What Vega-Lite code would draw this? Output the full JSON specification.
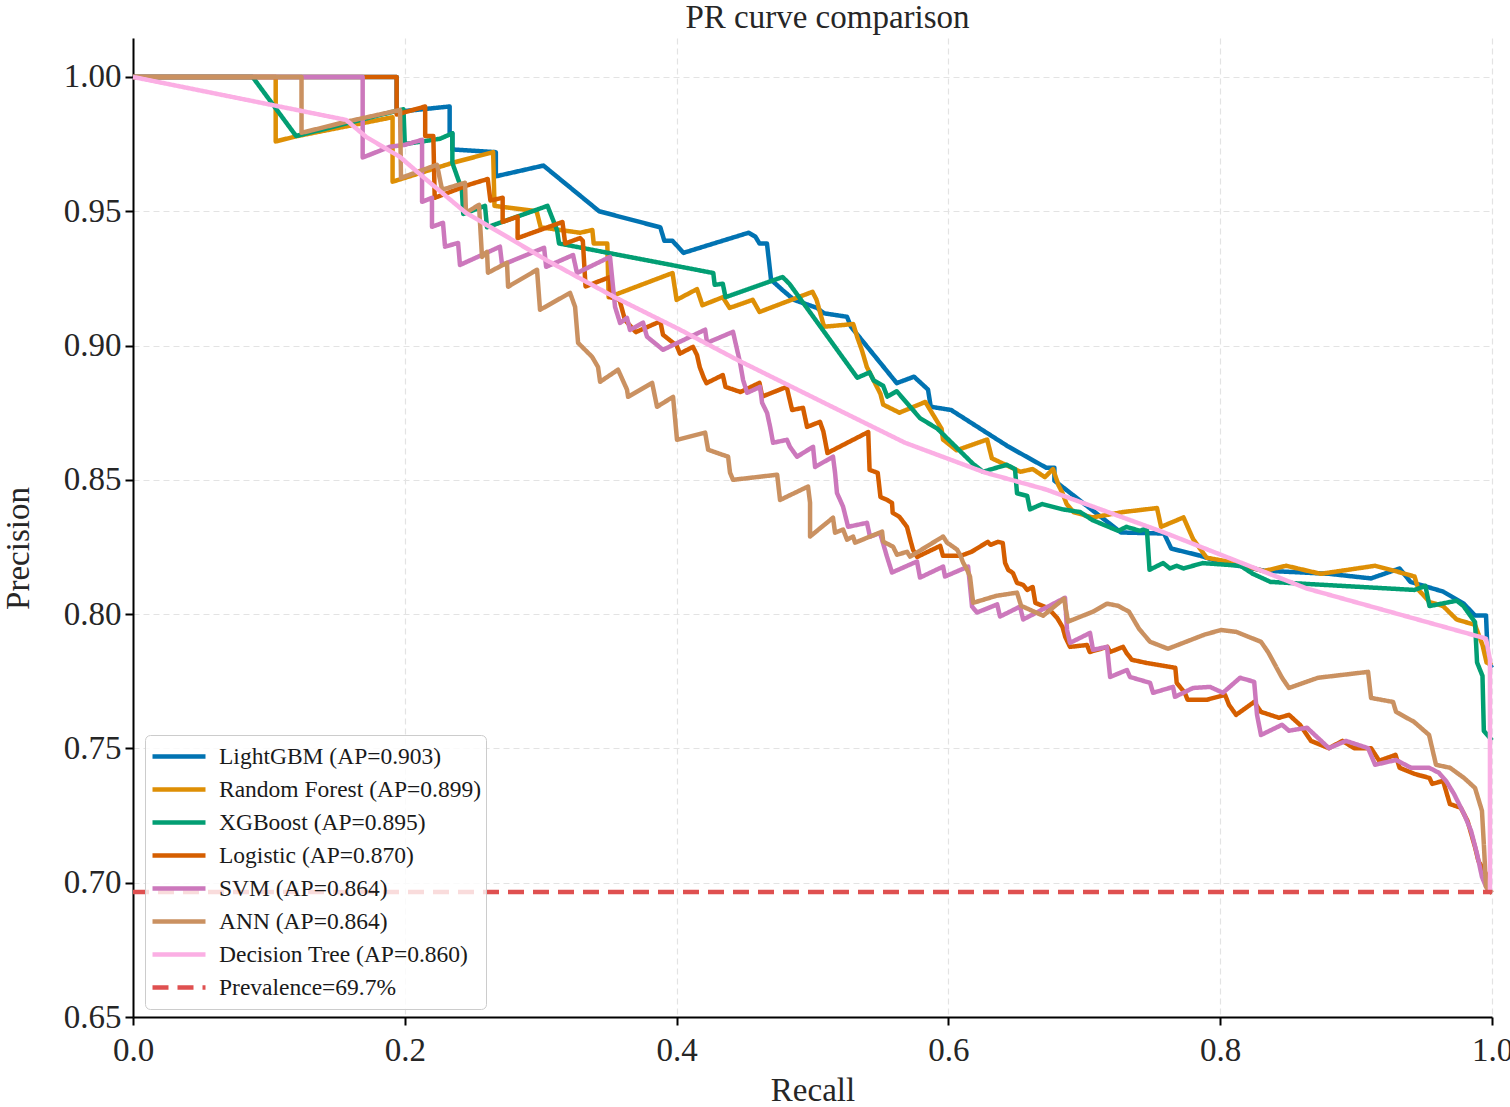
{
  "$schema": "https://vega.github.io/schema/vega-lite/v6.json",
  "width": 1359,
  "height": 979,
  "autosize": {"type": "none"},
  "padding": {"left": 133, "top": 38, "right": 18, "bottom": 90},
  "background": "white",
  "title": {"text": "PR curve comparison", "font": "Liberation Serif", "fontSize": 33, "fontWeight": "normal", "color": "#262626", "offset": 3, "dx": 15},
  "datasets": {
    "labels": [
      {"m": "L", "model": "LightGBM (AP=0.903)"},
      {"m": "F", "model": "Random Forest (AP=0.899)"},
      {"m": "X", "model": "XGBoost (AP=0.895)"},
      {"m": "G", "model": "Logistic (AP=0.870)"},
      {"m": "S", "model": "SVM (AP=0.864)"},
      {"m": "A", "model": "ANN (AP=0.864)"},
      {"m": "D", "model": "Decision Tree (AP=0.860)"},
      {"m": "P", "model": "Prevalence=69.7%"}
    ]
  },
  "data": {"values": [
    {"m":"L","i":0,"r":0,"p":1},{"m":"L","i":1,"r":0.194,"p":1},{"m":"L","i":2,"r":0.194,"p":0.987},{"m":"L","i":3,"r":0.233,"p":0.989},{"m":"L","i":4,"r":0.233,"p":0.979},{"m":"L","i":5,"r":0.235,"p":0.979},{"m":"L","i":6,"r":0.235,"p":0.973},{"m":"L","i":7,"r":0.267,"p":0.972},{"m":"L","i":8,"r":0.267,"p":0.963},{"m":"L","i":9,"r":0.302,"p":0.967},
    {"m":"L","i":10,"r":0.343,"p":0.950},{"m":"L","i":11,"r":0.388,"p":0.944},{"m":"L","i":12,"r":0.391,"p":0.939},{"m":"L","i":13,"r":0.397,"p":0.939},{"m":"L","i":14,"r":0.405,"p":0.9345},{"m":"L","i":15,"r":0.453,"p":0.942},{"m":"L","i":16,"r":0.458,"p":0.9405},{"m":"L","i":17,"r":0.461,"p":0.938},{"m":"L","i":18,"r":0.4665,"p":0.938},{"m":"L","i":19,"r":0.4695,"p":0.9245},
    {"m":"L","i":20,"r":0.4776,"p":0.9208},{"m":"L","i":21,"r":0.4864,"p":0.917},{"m":"L","i":22,"r":0.5033,"p":0.914},{"m":"L","i":23,"r":0.5085,"p":0.912},{"m":"L","i":24,"r":0.5254,"p":0.9107},{"m":"L","i":25,"r":0.5283,"p":0.907},{"m":"L","i":26,"r":0.562,"p":0.886},{"m":"L","i":27,"r":0.5747,"p":0.8884},{"m":"L","i":28,"r":0.585,"p":0.8836},{"m":"L","i":29,"r":0.587,"p":0.8772},
    {"m":"L","i":30,"r":0.602,"p":0.876},{"m":"L","i":31,"r":0.644,"p":0.8624},{"m":"L","i":32,"r":0.672,"p":0.8545},{"m":"L","i":33,"r":0.678,"p":0.8545},{"m":"L","i":34,"r":0.678,"p":0.8497},{"m":"L","i":35,"r":0.727,"p":0.8304},{"m":"L","i":36,"r":0.7587,"p":0.83},{"m":"L","i":37,"r":0.764,"p":0.8244},{"m":"L","i":38,"r":0.785,"p":0.8218},{"m":"L","i":39,"r":0.8006,"p":0.8192},
    {"m":"L","i":40,"r":0.832,"p":0.8162},{"m":"L","i":41,"r":0.88,"p":0.815},{"m":"L","i":42,"r":0.911,"p":0.8133},{"m":"L","i":43,"r":0.932,"p":0.817},{"m":"L","i":44,"r":0.94,"p":0.812},{"m":"L","i":45,"r":0.964,"p":0.8084},{"m":"L","i":46,"r":0.979,"p":0.804},{"m":"L","i":47,"r":0.9875,"p":0.7995},{"m":"L","i":48,"r":0.9956,"p":0.7995},{"m":"L","i":49,"r":0.997,"p":0.7824},{"m":"L","i":50,"r":1.0,"p":0.78},

    {"m":"F","i":0,"r":0,"p":1},{"m":"F","i":1,"r":0.105,"p":1},{"m":"F","i":2,"r":0.105,"p":0.976},{"m":"F","i":3,"r":0.121,"p":0.978},{"m":"F","i":4,"r":0.191,"p":0.985},{"m":"F","i":5,"r":0.191,"p":0.961},{"m":"F","i":6,"r":0.235,"p":0.968},{"m":"F","i":7,"r":0.265,"p":0.972},{"m":"F","i":8,"r":0.266,"p":0.952},{"m":"F","i":9,"r":0.297,"p":0.95},
    {"m":"F","i":10,"r":0.3,"p":0.944},{"m":"F","i":11,"r":0.329,"p":0.942},{"m":"F","i":12,"r":0.338,"p":0.943},{"m":"F","i":13,"r":0.339,"p":0.938},{"m":"F","i":14,"r":0.349,"p":0.938},{"m":"F","i":15,"r":0.35,"p":0.918},{"m":"F","i":16,"r":0.397,"p":0.927},{"m":"F","i":17,"r":0.4,"p":0.917},{"m":"F","i":18,"r":0.415,"p":0.921},{"m":"F","i":19,"r":0.419,"p":0.915},
    {"m":"F","i":20,"r":0.434,"p":0.918},{"m":"F","i":21,"r":0.439,"p":0.914},{"m":"F","i":22,"r":0.456,"p":0.917},{"m":"F","i":23,"r":0.461,"p":0.9125},{"m":"F","i":24,"r":0.5,"p":0.92},{"m":"F","i":25,"r":0.503,"p":0.917},{"m":"F","i":26,"r":0.5085,"p":0.907},{"m":"F","i":27,"r":0.53,"p":0.908},{"m":"F","i":28,"r":0.533,"p":0.903},{"m":"F","i":29,"r":0.5365,"p":0.898},
    {"m":"F","i":30,"r":0.54,"p":0.892},{"m":"F","i":31,"r":0.545,"p":0.887},{"m":"F","i":32,"r":0.55,"p":0.882},{"m":"F","i":33,"r":0.552,"p":0.878},{"m":"F","i":34,"r":0.564,"p":0.875},{"m":"F","i":35,"r":0.583,"p":0.879},{"m":"F","i":36,"r":0.595,"p":0.869},{"m":"F","i":37,"r":0.596,"p":0.865},{"m":"F","i":38,"r":0.606,"p":0.861},{"m":"F","i":39,"r":0.6285,"p":0.865},
    {"m":"F","i":40,"r":0.632,"p":0.858},{"m":"F","i":41,"r":0.653,"p":0.853},{"m":"F","i":42,"r":0.662,"p":0.854},{"m":"F","i":43,"r":0.671,"p":0.851},{"m":"F","i":44,"r":0.677,"p":0.854},{"m":"F","i":45,"r":0.681,"p":0.848},{"m":"F","i":46,"r":0.684,"p":0.845},{"m":"F","i":47,"r":0.687,"p":0.841},{"m":"F","i":48,"r":0.692,"p":0.838},{"m":"F","i":49,"r":0.706,"p":0.836},
    {"m":"F","i":50,"r":0.7285,"p":0.838},{"m":"F","i":51,"r":0.7535,"p":0.8395},{"m":"F","i":52,"r":0.7565,"p":0.8325},{"m":"F","i":53,"r":0.773,"p":0.836},{"m":"F","i":54,"r":0.78,"p":0.828},{"m":"F","i":55,"r":0.79,"p":0.821},{"m":"F","i":56,"r":0.812,"p":0.819},{"m":"F","i":57,"r":0.832,"p":0.816},{"m":"F","i":58,"r":0.8485,"p":0.818},{"m":"F","i":59,"r":0.874,"p":0.815},
    {"m":"F","i":60,"r":0.914,"p":0.818},{"m":"F","i":61,"r":0.929,"p":0.816},{"m":"F","i":62,"r":0.943,"p":0.814},{"m":"F","i":63,"r":0.946,"p":0.809},{"m":"F","i":64,"r":0.954,"p":0.8045},{"m":"F","i":65,"r":0.964,"p":0.803},{"m":"F","i":66,"r":0.974,"p":0.798},{"m":"F","i":67,"r":0.9875,"p":0.796},{"m":"F","i":68,"r":0.993,"p":0.7885},{"m":"F","i":69,"r":0.996,"p":0.782},{"m":"F","i":70,"r":1.0,"p":0.781},

    {"m":"X","i":0,"r":0,"p":1},{"m":"X","i":1,"r":0.088,"p":1},{"m":"X","i":2,"r":0.12,"p":0.978},{"m":"X","i":3,"r":0.199,"p":0.988},{"m":"X","i":4,"r":0.2,"p":0.975},{"m":"X","i":5,"r":0.226,"p":0.977},{"m":"X","i":6,"r":0.235,"p":0.979},{"m":"X","i":7,"r":0.235,"p":0.968},{"m":"X","i":8,"r":0.242,"p":0.958},{"m":"X","i":9,"r":0.243,"p":0.949},
    {"m":"X","i":10,"r":0.259,"p":0.952},{"m":"X","i":11,"r":0.2605,"p":0.944},{"m":"X","i":12,"r":0.305,"p":0.952},{"m":"X","i":13,"r":0.312,"p":0.943},{"m":"X","i":14,"r":0.3135,"p":0.938},{"m":"X","i":15,"r":0.427,"p":0.927},{"m":"X","i":16,"r":0.428,"p":0.9226},{"m":"X","i":17,"r":0.434,"p":0.923},{"m":"X","i":18,"r":0.436,"p":0.918},{"m":"X","i":19,"r":0.478,"p":0.9255},
    {"m":"X","i":20,"r":0.483,"p":0.923},{"m":"X","i":21,"r":0.533,"p":0.888},{"m":"X","i":22,"r":0.542,"p":0.89},{"m":"X","i":23,"r":0.545,"p":0.887},{"m":"X","i":24,"r":0.552,"p":0.885},{"m":"X","i":25,"r":0.555,"p":0.881},{"m":"X","i":26,"r":0.562,"p":0.883},{"m":"X","i":27,"r":0.579,"p":0.873},{"m":"X","i":28,"r":0.592,"p":0.869},{"m":"X","i":29,"r":0.618,"p":0.856},
    {"m":"X","i":30,"r":0.6255,"p":0.853},{"m":"X","i":31,"r":0.632,"p":0.854},{"m":"X","i":32,"r":0.643,"p":0.8556},{"m":"X","i":33,"r":0.649,"p":0.854},{"m":"X","i":34,"r":0.6505,"p":0.845},{"m":"X","i":35,"r":0.658,"p":0.844},{"m":"X","i":36,"r":0.66,"p":0.839},{"m":"X","i":37,"r":0.669,"p":0.841},{"m":"X","i":38,"r":0.684,"p":0.839},{"m":"X","i":39,"r":0.697,"p":0.838},
    {"m":"X","i":40,"r":0.706,"p":0.835},{"m":"X","i":41,"r":0.725,"p":0.831},{"m":"X","i":42,"r":0.731,"p":0.8325},{"m":"X","i":43,"r":0.741,"p":0.831},{"m":"X","i":44,"r":0.746,"p":0.832},{"m":"X","i":45,"r":0.748,"p":0.8165},{"m":"X","i":46,"r":0.758,"p":0.819},{"m":"X","i":47,"r":0.763,"p":0.817},{"m":"X","i":48,"r":0.768,"p":0.818},{"m":"X","i":49,"r":0.773,"p":0.817},
    {"m":"X","i":50,"r":0.787,"p":0.819},{"m":"X","i":51,"r":0.815,"p":0.818},{"m":"X","i":52,"r":0.824,"p":0.815},{"m":"X","i":53,"r":0.837,"p":0.812},{"m":"X","i":54,"r":0.943,"p":0.809},{"m":"X","i":55,"r":0.951,"p":0.8105},{"m":"X","i":56,"r":0.954,"p":0.803},{"m":"X","i":57,"r":0.974,"p":0.805},{"m":"X","i":58,"r":0.979,"p":0.803},{"m":"X","i":59,"r":0.9875,"p":0.797},
    {"m":"X","i":60,"r":0.989,"p":0.782},{"m":"X","i":61,"r":0.993,"p":0.777},{"m":"X","i":62,"r":0.994,"p":0.7565},{"m":"X","i":63,"r":1.0,"p":0.753},

    {"m":"G","i":0,"r":0,"p":1},{"m":"G","i":1,"r":0.194,"p":1},{"m":"G","i":2,"r":0.194,"p":0.986},{"m":"G","i":3,"r":0.215,"p":0.989},{"m":"G","i":4,"r":0.215,"p":0.978},{"m":"G","i":5,"r":0.221,"p":0.978},{"m":"G","i":6,"r":0.222,"p":0.955},{"m":"G","i":7,"r":0.248,"p":0.96},{"m":"G","i":8,"r":0.261,"p":0.962},{"m":"G","i":9,"r":0.263,"p":0.954},
    {"m":"G","i":10,"r":0.272,"p":0.955},{"m":"G","i":11,"r":0.272,"p":0.946},{"m":"G","i":12,"r":0.283,"p":0.948},{"m":"G","i":13,"r":0.283,"p":0.94},{"m":"G","i":14,"r":0.316,"p":0.946},{"m":"G","i":15,"r":0.318,"p":0.938},{"m":"G","i":16,"r":0.329,"p":0.94},{"m":"G","i":17,"r":0.331,"p":0.939},{"m":"G","i":18,"r":0.333,"p":0.922},{"m":"G","i":19,"r":0.351,"p":0.9255},
    {"m":"G","i":20,"r":0.351,"p":0.918},{"m":"G","i":21,"r":0.358,"p":0.917},{"m":"G","i":22,"r":0.362,"p":0.9095},{"m":"G","i":23,"r":0.37,"p":0.905},{"m":"G","i":24,"r":0.388,"p":0.909},{"m":"G","i":25,"r":0.39,"p":0.904},{"m":"G","i":26,"r":0.4,"p":0.9},{"m":"G","i":27,"r":0.4025,"p":0.897},{"m":"G","i":28,"r":0.412,"p":0.8995},{"m":"G","i":29,"r":0.415,"p":0.8965},
    {"m":"G","i":30,"r":0.417,"p":0.892},{"m":"G","i":31,"r":0.42,"p":0.888},{"m":"G","i":32,"r":0.422,"p":0.886},{"m":"G","i":33,"r":0.434,"p":0.889},{"m":"G","i":34,"r":0.436,"p":0.8846},{"m":"G","i":35,"r":0.447,"p":0.8827},{"m":"G","i":36,"r":0.461,"p":0.8861},{"m":"G","i":37,"r":0.463,"p":0.881},{"m":"G","i":38,"r":0.481,"p":0.8846},{"m":"G","i":39,"r":0.485,"p":0.876},
    {"m":"G","i":40,"r":0.493,"p":0.8768},{"m":"G","i":41,"r":0.496,"p":0.8697},{"m":"G","i":42,"r":0.5055,"p":0.8716},{"m":"G","i":43,"r":0.508,"p":0.868},{"m":"G","i":44,"r":0.511,"p":0.86},{"m":"G","i":45,"r":0.541,"p":0.8678},{"m":"G","i":46,"r":0.542,"p":0.8537},{"m":"G","i":47,"r":0.548,"p":0.8526},{"m":"G","i":48,"r":0.55,"p":0.8436},{"m":"G","i":49,"r":0.555,"p":0.8425},
    {"m":"G","i":50,"r":0.5585,"p":0.8414},{"m":"G","i":51,"r":0.559,"p":0.8377},{"m":"G","i":52,"r":0.564,"p":0.8362},{"m":"G","i":53,"r":0.5695,"p":0.8325},{"m":"G","i":54,"r":0.572,"p":0.8276},{"m":"G","i":55,"r":0.574,"p":0.8239},{"m":"G","i":56,"r":0.577,"p":0.8213},{"m":"G","i":57,"r":0.594,"p":0.8254},{"m":"G","i":58,"r":0.596,"p":0.8217},{"m":"G","i":59,"r":0.609,"p":0.8217},
    {"m":"G","i":60,"r":0.617,"p":0.8232},{"m":"G","i":61,"r":0.629,"p":0.8269},{"m":"G","i":62,"r":0.631,"p":0.8258},{"m":"G","i":63,"r":0.6365,"p":0.8269},{"m":"G","i":64,"r":0.64,"p":0.8265},{"m":"G","i":65,"r":0.6417,"p":0.8191},{"m":"G","i":66,"r":0.644,"p":0.8165},{"m":"G","i":67,"r":0.6475,"p":0.8153},{"m":"G","i":68,"r":0.6505,"p":0.8116},{"m":"G","i":69,"r":0.655,"p":0.8109},
    {"m":"G","i":70,"r":0.658,"p":0.809},{"m":"G","i":71,"r":0.662,"p":0.8101},{"m":"G","i":72,"r":0.664,"p":0.8042},{"m":"G","i":73,"r":0.671,"p":0.8027},{"m":"G","i":74,"r":0.676,"p":0.8008},{"m":"G","i":75,"r":0.68,"p":0.7986},{"m":"G","i":76,"r":0.684,"p":0.7952},{"m":"G","i":77,"r":0.686,"p":0.7915},{"m":"G","i":78,"r":0.6895,"p":0.7878},{"m":"G","i":79,"r":0.702,"p":0.7885},
    {"m":"G","i":80,"r":0.704,"p":0.7859},{"m":"G","i":81,"r":0.717,"p":0.7878},{"m":"G","i":82,"r":0.719,"p":0.7859},{"m":"G","i":83,"r":0.7285,"p":0.7878},{"m":"G","i":84,"r":0.731,"p":0.7856},{"m":"G","i":85,"r":0.735,"p":0.783},{"m":"G","i":86,"r":0.746,"p":0.7818},{"m":"G","i":87,"r":0.767,"p":0.78},{"m":"G","i":88,"r":0.768,"p":0.7744},{"m":"G","i":89,"r":0.774,"p":0.7707},
    {"m":"G","i":90,"r":0.776,"p":0.7681},{"m":"G","i":91,"r":0.79,"p":0.7681},{"m":"G","i":92,"r":0.8036,"p":0.7699},{"m":"G","i":93,"r":0.8065,"p":0.7662},{"m":"G","i":94,"r":0.8117,"p":0.7625},{"m":"G","i":95,"r":0.825,"p":0.7673},{"m":"G","i":96,"r":0.83,"p":0.7636},{"m":"G","i":97,"r":0.8433,"p":0.7614},{"m":"G","i":98,"r":0.8506,"p":0.7625},{"m":"G","i":99,"r":0.8587,"p":0.7588},
    {"m":"G","i":100,"r":0.8668,"p":0.7528},{"m":"G","i":101,"r":0.88,"p":0.7501},{"m":"G","i":102,"r":0.89,"p":0.7528},{"m":"G","i":103,"r":0.8985,"p":0.7501},{"m":"G","i":104,"r":0.911,"p":0.7501},{"m":"G","i":105,"r":0.917,"p":0.7454},{"m":"G","i":106,"r":0.929,"p":0.7476},{"m":"G","i":107,"r":0.932,"p":0.7428},{"m":"G","i":108,"r":0.943,"p":0.7405},{"m":"G","i":109,"r":0.954,"p":0.739},
    {"m":"G","i":110,"r":0.956,"p":0.7368},{"m":"G","i":111,"r":0.964,"p":0.7379},{"m":"G","i":112,"r":0.969,"p":0.7293},{"m":"G","i":113,"r":0.977,"p":0.7279},{"m":"G","i":114,"r":0.982,"p":0.723},{"m":"G","i":115,"r":0.9875,"p":0.7133},{"m":"G","i":116,"r":0.99,"p":0.7081},{"m":"G","i":117,"r":0.9956,"p":0.7033},{"m":"G","i":118,"r":0.997,"p":0.6973},{"m":"G","i":119,"r":1.0,"p":0.6962},

    {"m":"S","i":0,"r":0,"p":1},{"m":"S","i":1,"r":0.169,"p":1},{"m":"S","i":2,"r":0.169,"p":0.97},{"m":"S","i":3,"r":0.189,"p":0.974},{"m":"S","i":4,"r":0.2,"p":0.9747},{"m":"S","i":5,"r":0.2127,"p":0.9766},{"m":"S","i":6,"r":0.2127,"p":0.9535},{"m":"S","i":7,"r":0.22,"p":0.955},{"m":"S","i":8,"r":0.22,"p":0.9442},{"m":"S","i":9,"r":0.2281,"p":0.9457},
    {"m":"S","i":10,"r":0.2296,"p":0.9368},{"m":"S","i":11,"r":0.2392,"p":0.9382},{"m":"S","i":12,"r":0.2406,"p":0.93},{"m":"S","i":13,"r":0.27,"p":0.9368},{"m":"S","i":14,"r":0.2716,"p":0.93},{"m":"S","i":15,"r":0.3025,"p":0.9364},{"m":"S","i":16,"r":0.304,"p":0.9293},{"m":"S","i":17,"r":0.3238,"p":0.9337},{"m":"S","i":18,"r":0.3267,"p":0.927},{"m":"S","i":19,"r":0.351,"p":0.933},
    {"m":"S","i":20,"r":0.3547,"p":0.9144},{"m":"S","i":21,"r":0.3584,"p":0.9084},{"m":"S","i":22,"r":0.3635,"p":0.9103},{"m":"S","i":23,"r":0.3657,"p":0.9058},{"m":"S","i":24,"r":0.3753,"p":0.9085},{"m":"S","i":25,"r":0.3782,"p":0.9033},{"m":"S","i":26,"r":0.39,"p":0.8984},{"m":"S","i":27,"r":0.421,"p":0.9059},{"m":"S","i":28,"r":0.4224,"p":0.901},{"m":"S","i":29,"r":0.4415,"p":0.9051},
    {"m":"S","i":30,"r":0.4467,"p":0.8936},{"m":"S","i":31,"r":0.4489,"p":0.8872},{"m":"S","i":32,"r":0.4519,"p":0.8824},{"m":"S","i":33,"r":0.4614,"p":0.8846},{"m":"S","i":34,"r":0.4629,"p":0.8787},{"m":"S","i":35,"r":0.4666,"p":0.8749},{"m":"S","i":36,"r":0.4688,"p":0.8697},{"m":"S","i":37,"r":0.471,"p":0.8638},{"m":"S","i":38,"r":0.4812,"p":0.8649},{"m":"S","i":39,"r":0.4834,"p":0.8623},
    {"m":"S","i":40,"r":0.4886,"p":0.8586},{"m":"S","i":41,"r":0.5004,"p":0.8623},{"m":"S","i":42,"r":0.5019,"p":0.8548},{"m":"S","i":43,"r":0.5151,"p":0.8586},{"m":"S","i":44,"r":0.5166,"p":0.8526},{"m":"S","i":45,"r":0.518,"p":0.8451},{"m":"S","i":46,"r":0.5225,"p":0.84},{"m":"S","i":47,"r":0.5262,"p":0.8325},{"m":"S","i":48,"r":0.5401,"p":0.834},{"m":"S","i":49,"r":0.5423,"p":0.8288},
    {"m":"S","i":50,"r":0.5497,"p":0.8302},{"m":"S","i":51,"r":0.5548,"p":0.8214},{"m":"S","i":52,"r":0.5585,"p":0.8155},{"m":"S","i":53,"r":0.5769,"p":0.8196},{"m":"S","i":54,"r":0.5791,"p":0.8136},{"m":"S","i":55,"r":0.5961,"p":0.8177},{"m":"S","i":56,"r":0.5975,"p":0.814},{"m":"S","i":57,"r":0.6145,"p":0.8177},{"m":"S","i":58,"r":0.6174,"p":0.8028},{"m":"S","i":59,"r":0.6211,"p":0.8006},
    {"m":"S","i":60,"r":0.6359,"p":0.8036},{"m":"S","i":61,"r":0.638,"p":0.7991},{"m":"S","i":62,"r":0.6527,"p":0.8028},{"m":"S","i":63,"r":0.655,"p":0.798},{"m":"S","i":64,"r":0.6858,"p":0.8061},{"m":"S","i":65,"r":0.6873,"p":0.7941},{"m":"S","i":66,"r":0.6895,"p":0.7893},{"m":"S","i":67,"r":0.7042,"p":0.793},{"m":"S","i":68,"r":0.7064,"p":0.7867},{"m":"S","i":69,"r":0.7167,"p":0.7878},
    {"m":"S","i":70,"r":0.719,"p":0.7766},{"m":"S","i":71,"r":0.7314,"p":0.7792},{"m":"S","i":72,"r":0.7336,"p":0.7766},{"m":"S","i":73,"r":0.7484,"p":0.7744},{"m":"S","i":74,"r":0.7506,"p":0.7707},{"m":"S","i":75,"r":0.7653,"p":0.7729},{"m":"S","i":76,"r":0.7667,"p":0.7692},{"m":"S","i":77,"r":0.78,"p":0.7725},{"m":"S","i":78,"r":0.7925,"p":0.7729},{"m":"S","i":79,"r":0.802,"p":0.7707},
    {"m":"S","i":80,"r":0.8146,"p":0.7763},{"m":"S","i":81,"r":0.825,"p":0.7748},{"m":"S","i":82,"r":0.8271,"p":0.7625},{"m":"S","i":83,"r":0.83,"p":0.755},{"m":"S","i":84,"r":0.8455,"p":0.7588},{"m":"S","i":85,"r":0.8506,"p":0.7566},{"m":"S","i":86,"r":0.8639,"p":0.7577},{"m":"S","i":87,"r":0.88,"p":0.7501},{"m":"S","i":88,"r":0.8926,"p":0.7528},{"m":"S","i":89,"r":0.9088,"p":0.7501},
    {"m":"S","i":90,"r":0.914,"p":0.7439},{"m":"S","i":91,"r":0.9294,"p":0.7457},{"m":"S","i":92,"r":0.9404,"p":0.7428},{"m":"S","i":93,"r":0.9537,"p":0.7428},{"m":"S","i":94,"r":0.961,"p":0.7409},{"m":"S","i":95,"r":0.9662,"p":0.7379},{"m":"S","i":96,"r":0.972,"p":0.7331},{"m":"S","i":97,"r":0.9794,"p":0.7256},{"m":"S","i":98,"r":0.9846,"p":0.7193},{"m":"S","i":99,"r":0.989,"p":0.7107},
    {"m":"S","i":100,"r":0.9926,"p":0.7022},{"m":"S","i":101,"r":0.9956,"p":0.6985},{"m":"S","i":102,"r":1.0,"p":0.6962},

    {"m":"A","i":0,"r":0,"p":1},{"m":"A","i":1,"r":0.124,"p":1},{"m":"A","i":2,"r":0.124,"p":0.9792},{"m":"A","i":3,"r":0.1568,"p":0.9833},{"m":"A","i":4,"r":0.1965,"p":0.9877},{"m":"A","i":5,"r":0.1972,"p":0.9624},{"m":"A","i":6,"r":0.2237,"p":0.9673},{"m":"A","i":7,"r":0.2274,"p":0.958},{"m":"A","i":8,"r":0.2443,"p":0.9606},{"m":"A","i":9,"r":0.245,"p":0.9494},
    {"m":"A","i":10,"r":0.2546,"p":0.9524},{"m":"A","i":11,"r":0.2568,"p":0.933},{"m":"A","i":12,"r":0.2605,"p":0.9349},{"m":"A","i":13,"r":0.2612,"p":0.9271},{"m":"A","i":14,"r":0.2752,"p":0.9308},{"m":"A","i":15,"r":0.276,"p":0.9219},{"m":"A","i":16,"r":0.2973,"p":0.9282},{"m":"A","i":17,"r":0.2995,"p":0.9133},{"m":"A","i":18,"r":0.3216,"p":0.9196},{"m":"A","i":19,"r":0.3253,"p":0.9144},
    {"m":"A","i":20,"r":0.3275,"p":0.901},{"m":"A","i":21,"r":0.3378,"p":0.8958},{"m":"A","i":22,"r":0.3422,"p":0.892},{"m":"A","i":23,"r":0.3437,"p":0.8865},{"m":"A","i":24,"r":0.3569,"p":0.891},{"m":"A","i":25,"r":0.3635,"p":0.8836},{"m":"A","i":26,"r":0.3643,"p":0.8809},{"m":"A","i":27,"r":0.382,"p":0.8861},{"m":"A","i":28,"r":0.3856,"p":0.8772},{"m":"A","i":29,"r":0.3974,"p":0.8809},
    {"m":"A","i":30,"r":0.4003,"p":0.8649},{"m":"A","i":31,"r":0.421,"p":0.8676},{"m":"A","i":32,"r":0.4232,"p":0.8612},{"m":"A","i":33,"r":0.4379,"p":0.8586},{"m":"A","i":34,"r":0.4393,"p":0.8527},{"m":"A","i":35,"r":0.4415,"p":0.85},{"m":"A","i":36,"r":0.474,"p":0.8519},{"m":"A","i":37,"r":0.4761,"p":0.8425},{"m":"A","i":38,"r":0.4967,"p":0.8475},{"m":"A","i":39,"r":0.4982,"p":0.8415},
    {"m":"A","i":40,"r":0.4982,"p":0.8289},{"m":"A","i":41,"r":0.5151,"p":0.8359},{"m":"A","i":42,"r":0.5166,"p":0.8303},{"m":"A","i":43,"r":0.5225,"p":0.8315},{"m":"A","i":44,"r":0.5254,"p":0.8277},{"m":"A","i":45,"r":0.5299,"p":0.8289},{"m":"A","i":46,"r":0.5313,"p":0.8266},{"m":"A","i":47,"r":0.5512,"p":0.8307},{"m":"A","i":48,"r":0.552,"p":0.827},{"m":"A","i":49,"r":0.5593,"p":0.8251},
    {"m":"A","i":50,"r":0.5622,"p":0.8221},{"m":"A","i":51,"r":0.5696,"p":0.8232},{"m":"A","i":52,"r":0.5718,"p":0.8214},{"m":"A","i":53,"r":0.5961,"p":0.8289},{"m":"A","i":54,"r":0.599,"p":0.8266},{"m":"A","i":55,"r":0.6034,"p":0.8251},{"m":"A","i":56,"r":0.6064,"p":0.824},{"m":"A","i":57,"r":0.6086,"p":0.8221},{"m":"A","i":58,"r":0.6108,"p":0.8192},{"m":"A","i":59,"r":0.6137,"p":0.8166},
    {"m":"A","i":60,"r":0.6159,"p":0.814},{"m":"A","i":61,"r":0.6182,"p":0.8042},{"m":"A","i":62,"r":0.6351,"p":0.8068},{"m":"A","i":63,"r":0.6505,"p":0.808},{"m":"A","i":64,"r":0.6535,"p":0.8031},{"m":"A","i":65,"r":0.6697,"p":0.7994},{"m":"A","i":66,"r":0.6851,"p":0.8058},{"m":"A","i":67,"r":0.688,"p":0.7972},{"m":"A","i":68,"r":0.7064,"p":0.8009},{"m":"A","i":69,"r":0.7167,"p":0.8039},
    {"m":"A","i":70,"r":0.7248,"p":0.8031},{"m":"A","i":71,"r":0.7329,"p":0.8009},{"m":"A","i":72,"r":0.7403,"p":0.7945},{"m":"A","i":73,"r":0.7484,"p":0.7897},{"m":"A","i":74,"r":0.7616,"p":0.7871},{"m":"A","i":75,"r":0.7881,"p":0.7923},{"m":"A","i":76,"r":0.8006,"p":0.7941},{"m":"A","i":77,"r":0.8117,"p":0.7934},{"m":"A","i":78,"r":0.83,"p":0.7897},{"m":"A","i":79,"r":0.8352,"p":0.7859},
    {"m":"A","i":80,"r":0.8455,"p":0.7763},{"m":"A","i":81,"r":0.8506,"p":0.7725},{"m":"A","i":82,"r":0.872,"p":0.7763},{"m":"A","i":83,"r":0.8904,"p":0.7774},{"m":"A","i":84,"r":0.9088,"p":0.7785},{"m":"A","i":85,"r":0.911,"p":0.7688},{"m":"A","i":86,"r":0.9272,"p":0.7673},{"m":"A","i":87,"r":0.9294,"p":0.7636},{"m":"A","i":88,"r":0.9426,"p":0.7599},{"m":"A","i":89,"r":0.9537,"p":0.755},
    {"m":"A","i":90,"r":0.9588,"p":0.7439},{"m":"A","i":91,"r":0.9691,"p":0.7428},{"m":"A","i":92,"r":0.9794,"p":0.739},{"m":"A","i":93,"r":0.9875,"p":0.7353},{"m":"A","i":94,"r":0.9926,"p":0.7268},{"m":"A","i":95,"r":0.9941,"p":0.7134},{"m":"A","i":96,"r":0.9956,"p":0.6985},{"m":"A","i":97,"r":1.0,"p":0.6962},

    {"m":"D","i":0,"r":0,"p":1},{"m":"D","i":1,"r":0.1568,"p":0.984},{"m":"D","i":2,"r":0.1715,"p":0.9777},{"m":"D","i":3,"r":0.1965,"p":0.9702},{"m":"D","i":4,"r":0.2134,"p":0.9628},{"m":"D","i":5,"r":0.245,"p":0.9494},{"m":"D","i":6,"r":0.2752,"p":0.9405},{"m":"D","i":7,"r":0.3039,"p":0.9319},{"m":"D","i":8,"r":0.354,"p":0.9181},{"m":"D","i":9,"r":0.4025,"p":0.9059},
    {"m":"D","i":10,"r":0.4445,"p":0.8947},{"m":"D","i":11,"r":0.5144,"p":0.8772},{"m":"D","i":12,"r":0.5681,"p":0.8638},{"m":"D","i":13,"r":0.627,"p":0.8527},{"m":"D","i":14,"r":0.6718,"p":0.8464},{"m":"D","i":15,"r":0.7587,"p":0.8304},{"m":"D","i":16,"r":0.8639,"p":0.8095},{"m":"D","i":17,"r":0.9956,"p":0.7909},{"m":"D","i":18,"r":0.9985,"p":0.783},{"m":"D","i":19,"r":0.9985,"p":0.6962},

    {"m":"P","i":0,"r":0,"p":0.6965},{"m":"P","i":1,"r":1.0,"p":0.6965}
  ]},
  "transform": [
    {"lookup": "m", "from": {"data": {"name": "labels"}, "key": "m", "fields": ["model"]}}
  ],
  "mark": {"type": "line", "strokeWidth": 4.5, "strokeJoin": "round", "strokeCap": "butt"},
  "encoding": {
    "x": {
      "field": "r", "type": "quantitative",
      "scale": {"domain": [0, 1], "nice": false, "zero": false},
      "axis": {"title": "Recall", "values": [0, 0.2, 0.4, 0.6, 0.8, 1.0], "format": ".1f", "labelPadding": 9, "titlePadding": 7, "labelFlush": false, "labelBound": false}
    },
    "y": {
      "field": "p", "type": "quantitative",
      "scale": {"domain": [0.65, 1.0145], "nice": false, "zero": false},
      "axis": {"title": "Precision", "values": [0.65, 0.7, 0.75, 0.8, 0.85, 0.9, 0.95, 1.0], "format": ".2f", "labelPadding": 4, "titlePadding": 28, "titleY": 510, "labelFlush": false}
    },
    "order": {"field": "i", "type": "quantitative"},
    "color": {
      "field": "model", "type": "nominal",
      "scale": {
        "domain": ["LightGBM (AP=0.903)", "Random Forest (AP=0.899)", "XGBoost (AP=0.895)", "Logistic (AP=0.870)", "SVM (AP=0.864)", "ANN (AP=0.864)", "Decision Tree (AP=0.860)", "Prevalence=69.7%"],
        "range": ["#0173b2", "#de8f05", "#029e73", "#d55e00", "#cc78bc", "#ca9161", "#fbafe4", "#df5050"]
      },
      "legend": {"title": null}
    },
    "strokeDash": {
      "field": "model", "type": "nominal",
      "scale": {
        "domain": ["LightGBM (AP=0.903)", "Random Forest (AP=0.899)", "XGBoost (AP=0.895)", "Logistic (AP=0.870)", "SVM (AP=0.864)", "ANN (AP=0.864)", "Decision Tree (AP=0.860)", "Prevalence=69.7%"],
        "range": [[1, 0], [1, 0], [1, 0], [1, 0], [1, 0], [1, 0], [1, 0], [16, 9]]
      },
      "legend": {"title": null}
    }
  },
  "config": {
    "view": {"stroke": null},
    "font": "Liberation Serif",
    "axis": {
      "labelFont": "Liberation Serif", "labelFontSize": 33, "labelColor": "#262626",
      "titleFont": "Liberation Serif", "titleFontSize": 33, "titleFontWeight": "normal", "titleColor": "#262626",
      "domainColor": "black", "domainWidth": 2, "tickColor": "black", "tickWidth": 2, "tickSize": 8,
      "grid": true, "gridColor": "#e3e3e3", "gridDash": [6, 4], "gridWidth": 1.2
    },
    "legend": {
      "orient": "none", "legendX": 12, "legendY": 697,
      "symbolType": "stroke", "symbolSize": 2809, "symbolStrokeWidth": 4.5,
      "labelFont": "Liberation Serif", "labelFontSize": 23.5, "labelColor": "#1a1a1a", "labelLimit": 500,
      "labelOffset": 11, "rowPadding": 0, "clipHeight": 33,
      "fillColor": "rgba(255,255,255,0.8)", "strokeColor": "#cccccc", "cornerRadius": 5, "padding": 5
    }
  }
}
